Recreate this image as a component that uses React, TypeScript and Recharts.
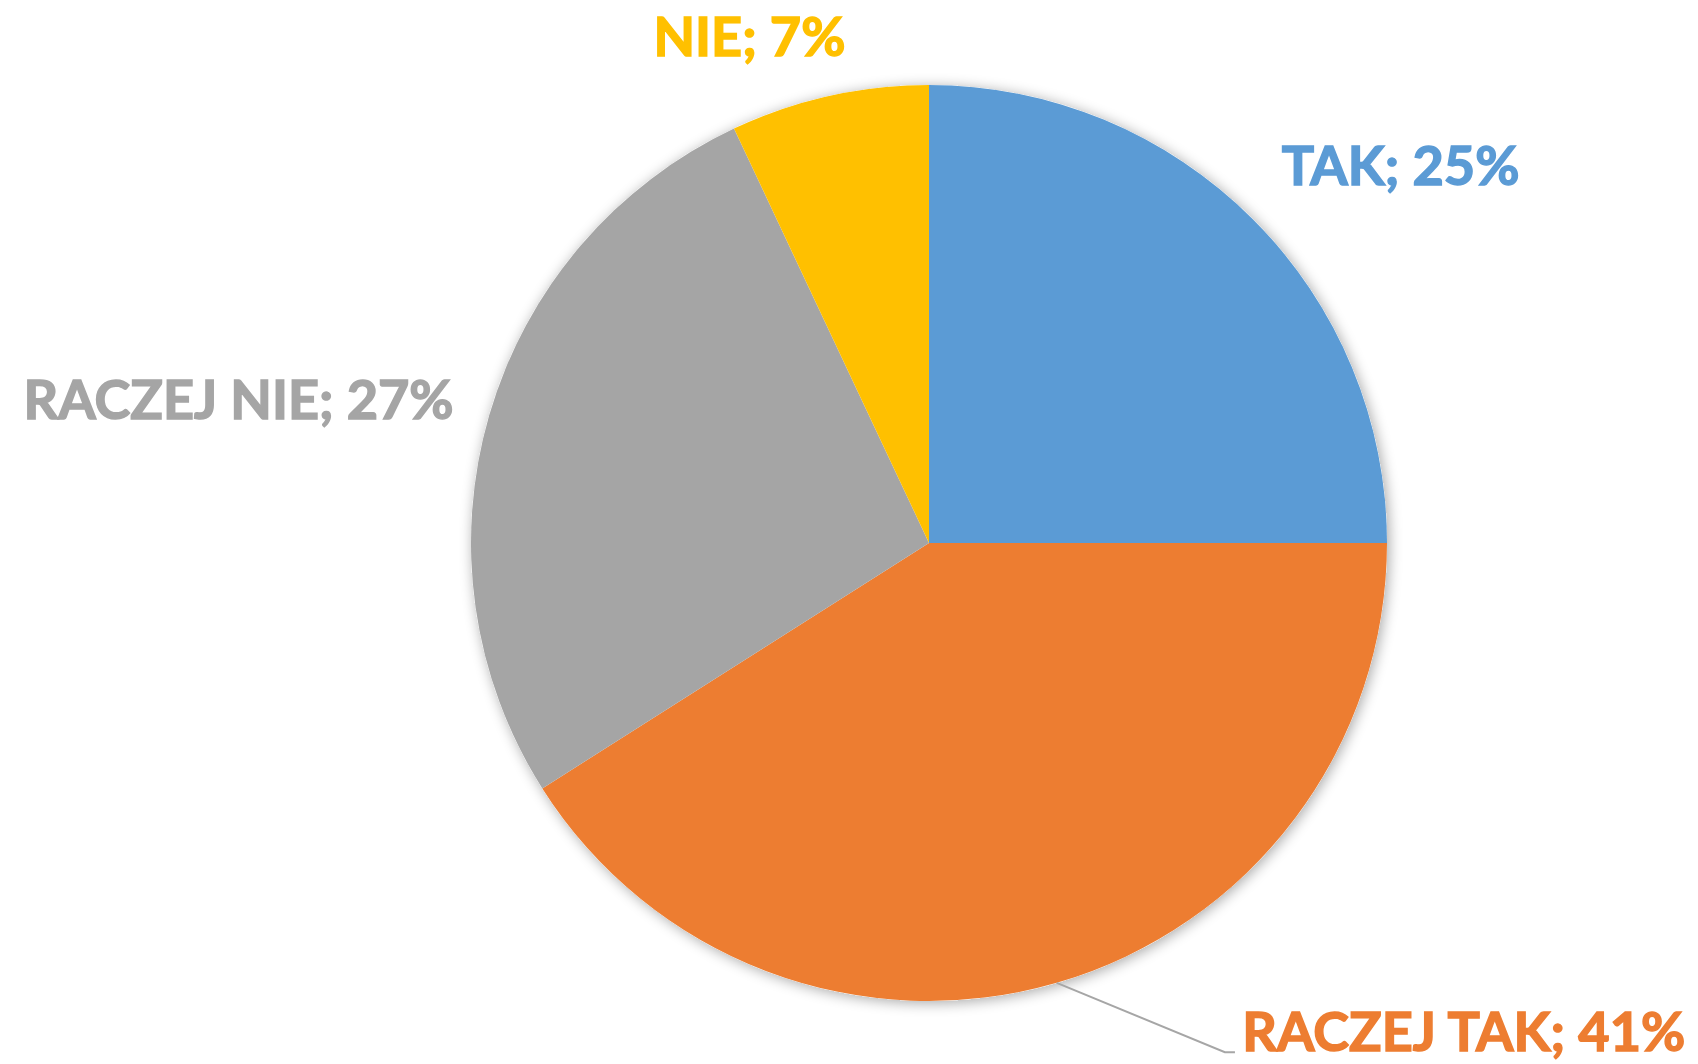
import { PieChart, Pie, Cell } from "recharts";

// odpowiedzi i udziały (%)
const categories = ["TAK", "RACZEJ TAK", "RACZEJ NIE", "NIE"];
const shares = [25, 41, 27, 7];
const colors = ["#5B9BD5", "#ED7D31", "#A5A5A5", "#FFC000"];

const data = categories.map((name, i) => ({ name, value: shares[i] }));

// label placement in units of the pie radius (relative to centre)
const labelLayout = [
  { dx: 0.77, dy: -0.781, anchor: "start" },
  { dx: 0.684, dy: 1.109, anchor: "start", elbow: [0.646, 1.112, 0.668] },
  { dx: -1.038, dy: -0.271, anchor: "end" },
  { dx: -0.392, dy: -1.063, anchor: "middle" },
];

const W = 1698;
const H = 1064;
const RAD = Math.PI / 180;

function renderLabel(props: any) {
  const { cx, cy, outerRadius, midAngle, index, name, value } = props;
  const pos = labelLayout[index];
  const x = cx + pos.dx * outerRadius;
  const y = cy + pos.dy * outerRadius;
  let line = null;
  if (pos.elbow) {
    const sx = cx + outerRadius * Math.cos(-midAngle * RAD);
    const sy = cy + outerRadius * Math.sin(-midAngle * RAD);
    const ex = cx + pos.elbow[0] * outerRadius;
    const ey = cy + pos.elbow[1] * outerRadius;
    const hx = cx + pos.elbow[2] * outerRadius;
    line = (
      <polyline
        points={`${sx},${sy} ${ex},${ey} ${hx},${ey}`}
        fill="none"
        stroke="#A6A6A6"
        strokeWidth={2}
      />
    );
  }
  return (
    <g key={`lbl-${index}`}>
      {line}
      <text
        x={x}
        y={y}
        textAnchor={pos.anchor}
        fill={colors[index]}
        stroke={colors[index]}
        strokeWidth={1.5}
        fontFamily="Lato, 'Open Sans', sans-serif"
        fontWeight={700}
        fontSize={54}
      >
        {`${name}; ${value}%`}
      </text>
    </g>
  );
}

export default function App() {
  return (
    <div style={{ position: "absolute", left: 0, top: 0, width: W, height: H, background: "#fff" }}>
      <PieChart width={W} height={H} margin={{ top: 0, right: 0, bottom: 0, left: 0 }}>
        <defs>
          <filter id="pieShadow" x="-10%" y="-10%" width="120%" height="120%">
            <feGaussianBlur in="SourceAlpha" stdDeviation="7" />
            <feOffset dx="2" dy="2" result="b" />
            <feComponentTransfer>
              <feFuncA type="linear" slope="0.35" />
            </feComponentTransfer>
            <feMerge>
              <feMergeNode />
              <feMergeNode in="SourceGraphic" />
            </feMerge>
          </filter>
        </defs>
        <Pie
          data={[{ name: "bg", value: 1 }]}
          dataKey="value"
          cx={929}
          cy={543}
          outerRadius={458}
          startAngle={90}
          endAngle={-270}
          stroke="none"
          isAnimationActive={false}
        >
          <Cell fill="#ffffff" filter="url(#pieShadow)" />
        </Pie>
        <Pie
          data={data}
          dataKey="value"
          nameKey="name"
          cx={929}
          cy={543}
          outerRadius={458}
          startAngle={90}
          endAngle={-270}
          stroke="none"
          label={renderLabel}
          labelLine={false}
          isAnimationActive={false}
        >
          {data.map((d, i) => (
            <Cell key={d.name} fill={colors[i]} />
          ))}
        </Pie>
      </PieChart>
    </div>
  );
}
